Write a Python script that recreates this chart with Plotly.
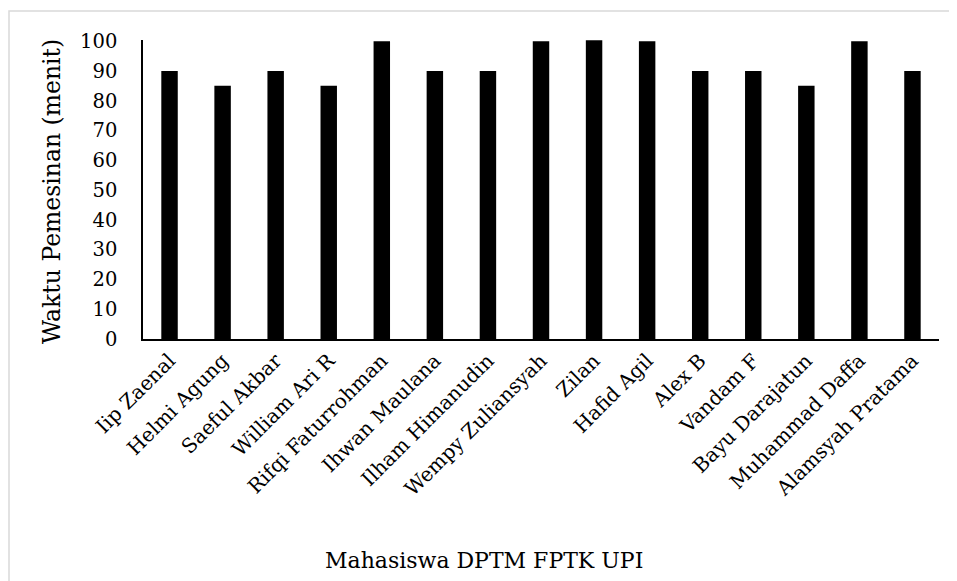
import plotly.graph_objects as go

categories = ["Iip Zaenal", "Helmi Agung", "Saeful Akbar", "William Ari R",
              "Rifqi Faturrohman", "Ihwan Maulana", "Ilham Himanudin",
              "Wempy Zuliansyah", "Zilan", "Hafid Agil", "Alex B", "Vandam F",
              "Bayu Darajatun", "Muhammad Daffa", "Alamsyah Pratama"]
values = [90, 85, 90, 85, 100, 90, 90, 100, 100.3, 100, 90, 90, 85, 100, 90]
y_ticks = [0, 10, 20, 30, 40, 50, 60, 70, 80, 90, 100]

FONT = "DejaVu Serif"
OFF = 8  # page body margin

fig = go.Figure(go.Bar(
    x=categories, y=values,
    marker=dict(color="black", line=dict(width=0)),
    width=0.31,
))

fig.update_layout(
    width=957 - OFF, height=581 - OFF,
    margin=dict(l=143 - OFF, r=18, t=40 - OFF, b=242),
    paper_bgcolor="white", plot_bgcolor="white",
    showlegend=False,
    font=dict(family=FONT, color="black"),
    xaxis=dict(
        showline=True, linecolor="black", linewidth=2,
        ticks="", tickangle=-45, tickfont=dict(size=20, family=FONT),
        showgrid=False,
    ),
    yaxis=dict(
        range=[0, 100.4], tickvals=y_ticks,
        showline=True, linecolor="black", linewidth=1.5,
        ticks="", tickfont=dict(size=19.5, family=FONT),
        showgrid=False, zeroline=False, ticklabelstandoff=20,
    ),
    annotations=[
        dict(text="Mahasiswa DPTM FPTK UPI", xref="paper", yref="paper",
             x=(484 - 143) / 796, y=-(560 - 339) / 299, xanchor="center", yanchor="middle",
             showarrow=False, font=dict(size=22, family=FONT, color="black")),
        dict(text="Waktu Pemesinan (menit)", xref="paper", yref="paper",
             x=(52 - 143) / 796, y=(339 - 192) / 299, xanchor="center", yanchor="middle",
             textangle=-90, showarrow=False,
             font=dict(size=23.5, family=FONT, color="black")),
    ],
    shapes=[
        dict(type="rect", xref="paper", yref="paper",
             x0=(9 - 143) / 796, x1=1.2, y0=-1.0, y1=1 + (40 - 11) / 299,
             line=dict(color="#d9d9d9", width=1.5), fillcolor="rgba(0,0,0,0)",
             layer="below"),
    ],
)

fig.write_html("out.html")
